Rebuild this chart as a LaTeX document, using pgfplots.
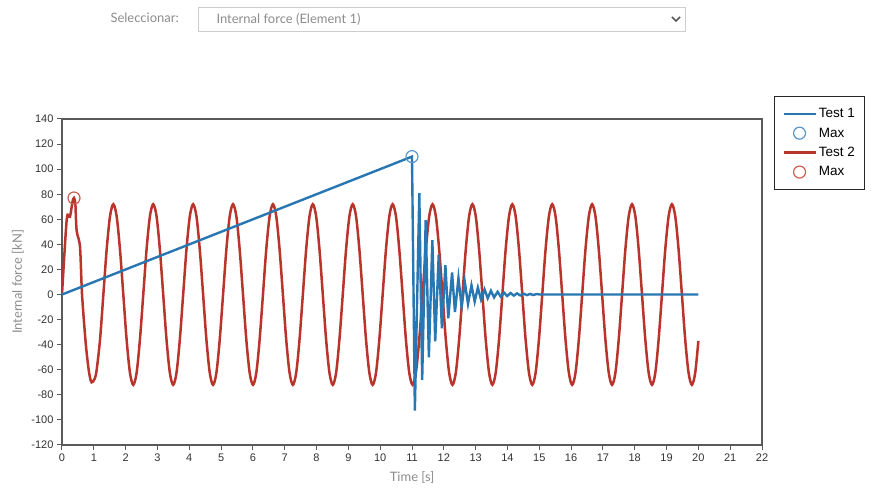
\documentclass[border=0pt]{standalone}
\usepackage{fontspec}
\setmainfont{Liberation Sans}
\newfontfamily\lightfont{Lato}
\usepackage{pgfplots}
\pgfplotsset{compat=1.18}

\definecolor{testblue}{RGB}{40,118,178}
\definecolor{maxblue}{RGB}{90,150,205}
\definecolor{testred}{RGB}{185,52,42}
\definecolor{maxred}{RGB}{205,95,85}
\definecolor{axisgray}{RGB}{90,90,90}
\definecolor{ticktext}{RGB}{50,50,50}
\definecolor{softgray}{RGB}{140,140,140}
\definecolor{boxgray}{RGB}{205,205,205}

\begin{document}
\begin{tikzpicture}[x=1pt,y=1pt]
\useasboundingbox (0,0) rectangle (871,489);

% selector above the chart
\node[anchor=west, text=softgray, font=\lightfont\fontsize{13}{15}\selectfont] at (107,471) {Seleccionar:};
\draw[boxgray, line width=0.8pt] (198,482) rectangle (685,458);
\node[anchor=west, text=softgray, font=\lightfont\fontsize{13}{15}\selectfont] at (213,470) {Internal force (Element 1)};
\draw[axisgray, line width=1.5pt] (672,472) -- (676,468) -- (680,472);

\begin{axis}[
    at={(62pt,44pt)}, anchor=south west,
    scale only axis, width=700pt, height=326pt,
    xmin=0, xmax=22, ymin=-120, ymax=140,
    xtick={0,1,...,22}, ytick={-120,-100,...,140},
    xtick pos=bottom, ytick pos=left,
    tick align=outside, major tick length=5pt,
    axis line style={axisgray, line width=1.2pt},
    tick style={axisgray, line width=1pt},
    tick label style={font=\fontsize{11}{13}\selectfont, text=ticktext},
    /pgf/number format/assume math mode=true,
    xlabel={Time [s]}, ylabel={Internal force [kN]},
    label style={font=\lightfont\fontsize{13}{15}\selectfont, text=softgray},
    xlabel style={at={(axis description cs:0.5,-0.101)}, anchor=center},
    ylabel style={at={(axis description cs:-0.063,0.5)}, anchor=center},
    legend style={at={(1.017,1.0706)}, anchor=north west,
        draw=black!85, line width=0.8pt,
        font=\fontsize{13.5}{15}\selectfont,
        inner xsep=8pt, inner ysep=10pt, row sep=4.6pt},
    legend cell align=left,
    legend image code/.code={\draw[mark repeat=2,mark phase=2,#1] plot coordinates {(0pt,0pt)(16pt,0pt)(32pt,0pt)};},
]

% Test 2
\addplot[testred, line width=2.5pt, smooth, forget plot] coordinates {
    (0,0) (0.15,60) (0.25,62) (0.33,74) (0.377,77) (0.42,72) (0.46,51) (0.566,38)
    (0.63,0) (0.75,-40) (0.85,-62) (0.93,-70) (1.03,-67) (1.09,-60) (1.195,-36)
    (1.300,0) (1.404,36) (1.509,62.4)
    (1.613,72) (1.718,62.4) (1.822,36) (1.927,0) (2.031,-36) (2.136,-62.4)
    (2.240,-72) (2.345,-62.4) (2.449,-36) (2.554,0) (2.658,36) (2.763,62.4)
    (2.867,72) (2.972,62.4) (3.076,36) (3.181,0) (3.285,-36) (3.390,-62.4)
    (3.494,-72) (3.599,-62.4) (3.703,-36) (3.808,0) (3.912,36) (4.017,62.4)
    (4.121,72) (4.226,62.4) (4.330,36) (4.435,0) (4.539,-36) (4.644,-62.4)
    (4.748,-72) (4.853,-62.4) (4.957,-36) (5.062,0) (5.166,36) (5.271,62.4)
    (5.375,72) (5.480,62.4) (5.584,36) (5.689,0) (5.793,-36) (5.898,-62.4)
    (6.002,-72) (6.107,-62.4) (6.211,-36) (6.316,0) (6.420,36) (6.525,62.4)
    (6.629,72) (6.734,62.4) (6.838,36) (6.943,0) (7.047,-36) (7.152,-62.4)
    (7.256,-72) (7.361,-62.4) (7.465,-36) (7.570,0) (7.674,36) (7.779,62.4)
    (7.883,72) (7.988,62.4) (8.092,36) (8.197,0) (8.301,-36) (8.406,-62.4)
    (8.510,-72) (8.615,-62.4) (8.719,-36) (8.824,0) (8.928,36) (9.033,62.4)
    (9.137,72) (9.242,62.4) (9.346,36) (9.451,0) (9.555,-36) (9.660,-62.4)
    (9.764,-72) (9.869,-62.4) (9.973,-36) (10.078,0) (10.182,36) (10.287,62.4)
    (10.391,72) (10.496,62.4) (10.600,36) (10.705,0) (10.809,-36) (10.914,-62.4)
    (11.018,-72) (11.123,-62.4) (11.227,-36) (11.332,0) (11.436,36) (11.541,62.4)
    (11.645,72) (11.750,62.4) (11.854,36) (11.959,0) (12.063,-36) (12.168,-62.4)
    (12.272,-72) (12.377,-62.4) (12.481,-36) (12.586,0) (12.690,36) (12.795,62.4)
    (12.899,72) (13.004,62.4) (13.108,36) (13.213,0) (13.317,-36) (13.422,-62.4)
    (13.526,-72) (13.631,-62.4) (13.735,-36) (13.840,0) (13.944,36) (14.049,62.4)
    (14.153,72) (14.258,62.4) (14.362,36) (14.467,0) (14.571,-36) (14.676,-62.4)
    (14.780,-72) (14.885,-62.4) (14.989,-36) (15.094,0) (15.198,36) (15.303,62.4)
    (15.407,72) (15.512,62.4) (15.616,36) (15.721,0) (15.825,-36) (15.930,-62.4)
    (16.034,-72) (16.139,-62.4) (16.243,-36) (16.348,0) (16.452,36) (16.557,62.4)
    (16.661,72) (16.766,62.4) (16.870,36) (16.975,0) (17.079,-36) (17.184,-62.4)
    (17.288,-72) (17.393,-62.4) (17.497,-36) (17.602,0) (17.706,36) (17.811,62.4)
    (17.915,72) (18.020,62.4) (18.124,36) (18.229,0) (18.333,-36) (18.438,-62.4)
    (18.542,-72) (18.647,-62.4) (18.751,-36) (18.856,0) (18.960,36) (19.065,62.4)
    (19.169,72) (19.274,62.4) (19.378,36) (19.483,0) (19.587,-36) (19.692,-62.4)
    (19.796,-72) (19.901,-62.4) (20.0,-37)
};

% Test 1
\addplot[testblue, line width=2.4pt] coordinates {
    (0,0) (11.0,110) (11.09,-92.6) (11.23,80.8) (11.32,-68) (11.43,59.4)
    (11.53,-50) (11.64,43.4) (11.73,-37.4) (11.84,32) (11.94,-27) (12.05,23.4)
    (12.14,-19) (12.26,17.6) (12.35,-14) (12.46,13.3) (12.56,-10) (12.66,10)
    (12.76,-7.5) (12.87,7.4) (12.97,-5.6) (13.07,5.5) (13.17,-4.1) (13.28,4.1)
    (13.38,-3.0) (13.48,3.0) (13.58,-2.3) (13.69,2.2) (13.79,-1.7) (13.89,1.6)
    (13.99,-1.2) (14.10,1.2) (14.20,-0.9) (14.30,0.9) (14.40,-0.7) (14.51,0.7)
    (14.61,-0.5) (14.71,0.5) (14.81,-0.4) (14.92,0.4) (15.02,0) (20.0,0)
};
\addlegendentry{Test 1}
\addplot[only marks, mark=o, mark size=6pt, maxblue, line width=1.2pt] coordinates {(11.0,110)};
\addlegendentry{Max}

\addplot[testred, only marks, mark=o, mark size=6pt, mark options={maxred, line width=1.2pt}, forget plot] coordinates {(0.377,77)};
\addlegendimage{testred, line width=2.5pt}
\addlegendentry{Test 2}
\addlegendimage{only marks, mark=o, mark size=6pt, maxred, line width=1.2pt}
\addlegendentry{Max}

\end{axis}
\end{tikzpicture}
\end{document}
